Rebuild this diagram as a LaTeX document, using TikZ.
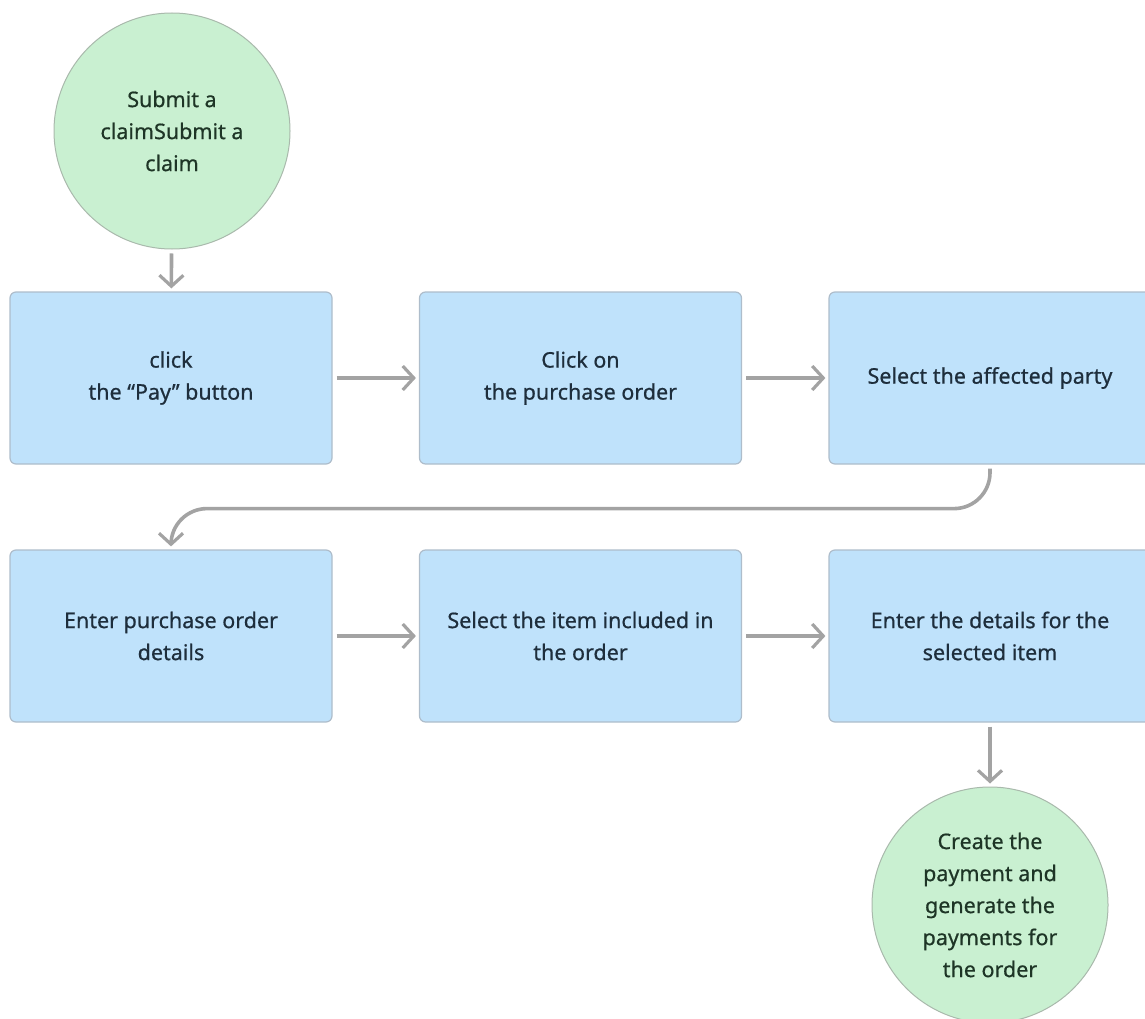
\documentclass[tikz,border=0pt]{standalone}
\usepackage{fontspec}
\setmainfont{Noto Sans}
\newfontfamily\medfont{Noto Sans}[FakeBold=0.6]
\usetikzlibrary{arrows.meta}
\definecolor{boxfill}{HTML}{BFE2FB}
\definecolor{boxline}{HTML}{AEBDCB}
\definecolor{circfill}{HTML}{C9F0D1}
\definecolor{circline}{HTML}{A9B9AC}
\definecolor{conncol}{HTML}{A3A3A3}
\definecolor{boxtext}{HTML}{1E2E3C}
\definecolor{circtext}{HTML}{1E3526}
\tikzset{
  stepbox/.style={draw=boxline, line width=1.2pt, fill=boxfill, rounded corners=6pt,
    minimum width=322pt, minimum height=172pt, inner sep=0pt, align=center,
    text=boxtext, font=\medfont\fontsize{21.5}{32}\selectfont},
  endcircle/.style={circle, draw=circline, line width=1pt, fill=circfill,
    minimum size=236pt, inner sep=0pt, align=center,
    text=circtext, font=\medfont\fontsize{21.5}{32}\selectfont},
  conn/.style={draw=conncol, line width=3.6pt,
    -{Straight Barb[length=11pt, width=24pt, line width=3.2pt]}, shorten >=3pt, shorten <=4pt},
}
\begin{document}
\begin{tikzpicture}[x=1pt, y=-1pt]
\useasboundingbox (0,0) rectangle (1145,1019);
\node[endcircle] (c1) at (172,131) {Submit a\\claimSubmit a\\claim};
\node[stepbox] (b1) at (171,378) {click\\the “Pay” button};
\node[stepbox] (b2) at (580.5,378) {Click on\\the purchase order};
\node[stepbox] (b3) at (990,378) {Select the affected party};
\node[stepbox] (b4) at (171,636) {Enter purchase order\\details};
\node[stepbox] (b5) at (580.5,636) {Select the item included in\\the order};
\node[stepbox] (b6) at (990,636) {Enter the details for the\\selected item};
\node[endcircle] (c2) at (990,905) {Create the\\payment and\\generate the\\payments for\\the order};
\draw[conn] (c1) -- (b1);
\draw[conn] (b1) -- (b2);
\draw[conn] (b2) -- (b3);
\draw[conn, rounded corners=36pt] (b3.south) -- ++(0,44) -| (b4.north);
\draw[conn] (b4) -- (b5);
\draw[conn] (b5) -- (b6);
\draw[conn] (b6) -- (c2);
\end{tikzpicture}
\end{document}
